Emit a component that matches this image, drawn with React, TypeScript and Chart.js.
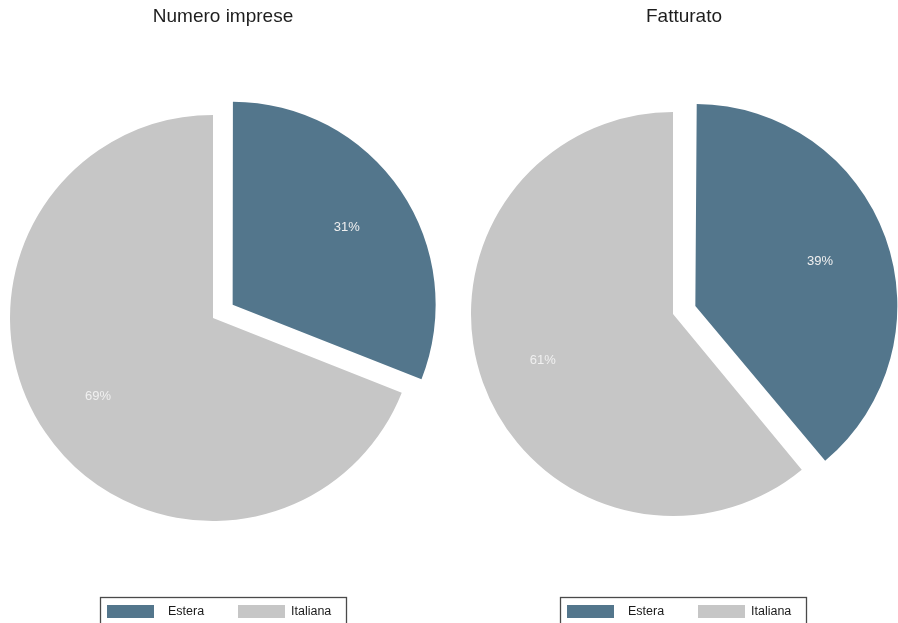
import React, { useEffect, useRef } from "react";
import { Chart, registerables } from "chart.js";

Chart.register(...registerables);

// ---- data ----
const categories = ["Estera", "Italiana"];
const impreseValues = [31, 69];
const fatturatoValues = [39, 61];
const titles = ["Numero imprese", "Fatturato"];
const sliceColors = ["#53768c", "#c6c6c6"];

const FONT = "'Liberation Sans', Arial, Helvetica, sans-serif";

// Keep exploded slice radius equal to others (Chart.js enlarges offset arcs slightly)
const radiusFixPlugin = {
  id: "radiusFix",
  afterDatasetsUpdate(chart: any) {
    const meta = chart.getDatasetMeta(0);
    meta.data.forEach((arc: any) => {
      const off = ((arc.options && arc.options.offset) || 0) / 4;
      const fix = 1 - Math.sin(Math.min(Math.PI, arc.circumference || 0));
      arc.outerRadius = arc.outerRadius - off * fix;
    });
  },
};

const pctLabelPlugin = {
  id: "pctLabels",
  afterDatasetsDraw(chart: any) {
    const ctx = chart.ctx;
    const meta = chart.getDatasetMeta(0);
    const data = chart.data.datasets[0].data as number[];
    const total = data.reduce((a, b) => a + b, 0);
    ctx.save();
    ctx.font = `13px ${FONT}`;
    ctx.fillStyle = "#f0f0f0";
    ctx.textAlign = "center";
    ctx.textBaseline = "middle";
    meta.data.forEach((arc: any, i: number) => {
      const mid = (arc.startAngle + arc.endAngle) / 2;
      const off = ((arc.options && arc.options.offset) || 0) / 4;
      const cx = arc.x + Math.cos(mid) * off;
      const cy = arc.y + Math.sin(mid) * off;
      const rr = arc.outerRadius * 0.685;
      const txt = Math.round((data[i] / total) * 100) + "%";
      ctx.fillText(txt, cx + Math.cos(mid) * rr, cy + Math.sin(mid) * rr);
    });
    ctx.restore();
  },
};

// Title centred on the canvas (independent of the pie's layout padding)
const topTitlePlugin = {
  id: "topTitle",
  afterDraw(chart: any, _args: any, opts: any) {
    if (!opts || !opts.text) return;
    const ctx = chart.ctx;
    ctx.save();
    ctx.font = `19px ${FONT}`;
    ctx.fillStyle = "#1e1e1e";
    ctx.textAlign = "center";
    ctx.textBaseline = "middle";
    ctx.fillText(opts.text, chart.width / 2, opts.y);
    ctx.restore();
  },
};

const boxLegendPlugin = {
  id: "boxLegend",
  afterDraw(chart: any, _args: any, opts: any) {
    if (!opts || opts.left === undefined) return;
    const ctx = chart.ctx;
    const { left, top, width } = opts;
    ctx.save();
    ctx.strokeStyle = "#4a4a4a";
    ctx.lineWidth = 1.3;
    ctx.strokeRect(left + 0.5, top + 0.5, width, 60);
    const labels = chart.data.labels as string[];
    const colors = chart.data.datasets[0].backgroundColor as string[];
    const swatchX = [7, 138];
    const textX = [68, 191];
    ctx.font = `12.5px ${FONT}`;
    ctx.textBaseline = "middle";
    ctx.textAlign = "left";
    labels.forEach((lab, i) => {
      ctx.fillStyle = colors[i];
      ctx.fillRect(left + swatchX[i], top + 8, 47, 13);
      ctx.fillStyle = "#1a1a1a";
      ctx.fillText(lab, left + textX[i], top + 14.5);
    });
    ctx.restore();
  },
};

type PieProps = {
  x: number;
  w: number;
  title: string;
  values: number[];
  radius: number;
  padding: { left: number; right: number; top: number; bottom: number };
  legendLeft: number;
};

function PieCanvas(props: PieProps) {
  const ref = useRef<HTMLCanvasElement>(null);
  const { x, w, title, values, radius, padding, legendLeft } = props;
  useEffect(() => {
    if (!ref.current) return;
    const chart = new Chart(ref.current, {
      type: "pie",
      data: {
        labels: categories,
        datasets: [
          {
            data: values,
            backgroundColor: sliceColors,
            borderWidth: 0,
            offset: [95, 0],
            clip: false as any,
          } as any,
        ],
      },
      options: {
        animation: false,
        responsive: false,
        radius: radius,
        layout: { padding },
        plugins: {
          legend: { display: false },
          tooltip: { enabled: false },
          title: { display: false },
          topTitle: { text: title, y: 17 },
          boxLegend: { left: legendLeft, top: 597, width: 246 },
        } as any,
      } as any,
      plugins: [radiusFixPlugin, pctLabelPlugin, topTitlePlugin, boxLegendPlugin],
    });
    return () => chart.destroy();
  }, []);
  return (
    <canvas
      ref={ref}
      width={w}
      height={623}
      style={{ position: "absolute", left: x, top: 0, width: w, height: 623 }}
    />
  );
}

export default function App() {
  return (
    <div
      style={{
        position: "absolute",
        left: 0,
        top: 0,
        width: 898,
        height: 623,
        background: "#ffffff",
        overflow: "hidden",
      }}
    >
      <PieCanvas
        x={0}
        w={446}
        title={titles[0]}
        values={impreseValues}
        radius={203}
        padding={{ left: 0, right: 20, top: 110, bottom: 97 }}
        legendLeft={100}
      />
      <PieCanvas
        x={470}
        w={428}
        title={titles[1]}
        values={fatturatoValues}
        radius={202}
        padding={{ left: 0, right: 22, top: 110, bottom: 105 }}
        legendLeft={90}
      />
    </div>
  );
}
